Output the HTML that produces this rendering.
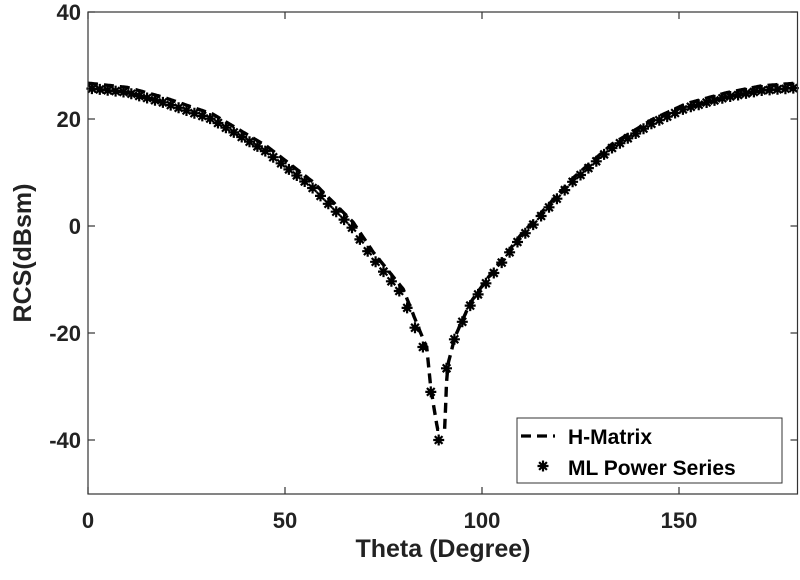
<!DOCTYPE html>
<html><head><meta charset="utf-8"><style>
body{margin:0;background:#fff;}
svg{display:block;font-family:"Liberation Sans",Arial,sans-serif;font-weight:bold;}
</style></head><body>
<svg id="s" width="800" height="580" viewBox="0 0 800 580" xmlns="http://www.w3.org/2000/svg">
<rect x="0" y="0" width="800" height="580" fill="#fff"/>
<g id="data"></g>
<rect x="88" y="12" width="709.5" height="482" fill="none" stroke="#333" stroke-width="1.2"/>
<g stroke="#333" stroke-width="1.2" id="ticks"></g>
<g font-size="22" fill="#222" text-anchor="middle">
<text x="88" y="528">0</text><text x="285" y="528">50</text><text x="482" y="528">100</text><text x="679" y="528">150</text>
</g>
<g font-size="22" fill="#222" text-anchor="end">
<text x="81" y="20">40</text><text x="81" y="127">20</text><text x="81" y="234">0</text><text x="81" y="341">-20</text><text x="81" y="448">-40</text>
</g>
<text x="443" y="557" font-size="25" text-anchor="middle" fill="#222">Theta (Degree)</text>
<text transform="translate(31,253) rotate(-90)" font-size="25" text-anchor="middle" fill="#222">RCS(dBsm)</text>
<rect x="517" y="418" width="265" height="65" fill="#fff" stroke="#333" stroke-width="1"/>
<line x1="521" y1="436" x2="555" y2="436" stroke="#000" stroke-width="3.2" stroke-dasharray="10,6"/>
<text x="568" y="444" font-size="21" fill="#000">H-Matrix</text>
<g id="lg"></g>
<text x="568" y="475" font-size="21" fill="#000">ML Power Series</text>
</svg>
<script>
var X=function(t){return 88+t*3.94;},Y=function(v){return 226-v*5.35;};
var tk=document.getElementById('ticks'),h='';
[0,50,100,150].forEach(function(t){h+='<line x1="'+X(t)+'" y1="494" x2="'+X(t)+'" y2="487"/><line x1="'+X(t)+'" y1="12" x2="'+X(t)+'" y2="19"/>';});
[40,20,0,-20,-40].forEach(function(v){h+='<line x1="88" y1="'+Y(v)+'" x2="95" y2="'+Y(v)+'"/><line x1="797.5" y1="'+Y(v)+'" x2="790.5" y2="'+Y(v)+'"/>';});
tk.innerHTML=h;
function star(x,y){var r=5.5,s='';for(var k=0;k<4;k++){var a=k*Math.PI/4,dx=r*Math.cos(a),dy=r*Math.sin(a);s+='M'+(x-dx).toFixed(1)+','+(y-dy).toFixed(1)+'L'+(x+dx).toFixed(1)+','+(y+dy).toFixed(1);}
return s;}
var L=[[0,-48],[1,-40],[3,-31],[4,-23.5],[6.5,-19],[10,-12.5],[17.7,-5.5],[22.7,0],[33,7.6],[44.6,14.2],[58.3,20.2],[71,23.4],[80,25.2],[90,26]];
var R=[[0,-48],[1,-30],[1.4,-26.4],[3.2,-21.3],[7,-15.1],[11.3,-10.6],[19.6,-2.6],[33,8.2],[43,14.6],[53.4,19.3],[62,22.2],[72,24.2],[81,25.5],[90,26]];
function interp(tab,d){for(var i=1;i<tab.length;i++){if(d<=tab[i][0]){var a=tab[i-1],b=tab[i],r=(d-a[0])/(b[0]-a[0]);return a[1]+r*(b[1]-a[1]);}}return 26;}
function f(t){var d=t-89.6;return d<0?interp(L,-d):interp(R,d);}
var p='';
for(var t=0;t<=180;t+=0.25){var v=f(t-0.4)+0.7;if(v<-38)v=-38;p+=(t==0?'M':'L')+X(t).toFixed(1)+','+Y(v).toFixed(1);}
var g='<path d="'+p+'" fill="none" stroke="#000" stroke-width="3.4" stroke-dasharray="10,6"/>';
var sp='';
for(var t=1;t<=179;t+=2){var v=f(t)-0.2;if(t==89)v=-40;if(t==87)v=-31;sp+=star(X(t),Y(v));}
g+='<path d="'+sp+'" fill="none" stroke="#000" stroke-width="2.2"/>';
document.getElementById('data').innerHTML=g;
document.getElementById('lg').innerHTML='<path d="'+star(543,466)+'" stroke="#000" stroke-width="2.2" fill="none"/>';
</script>
</body></html>
